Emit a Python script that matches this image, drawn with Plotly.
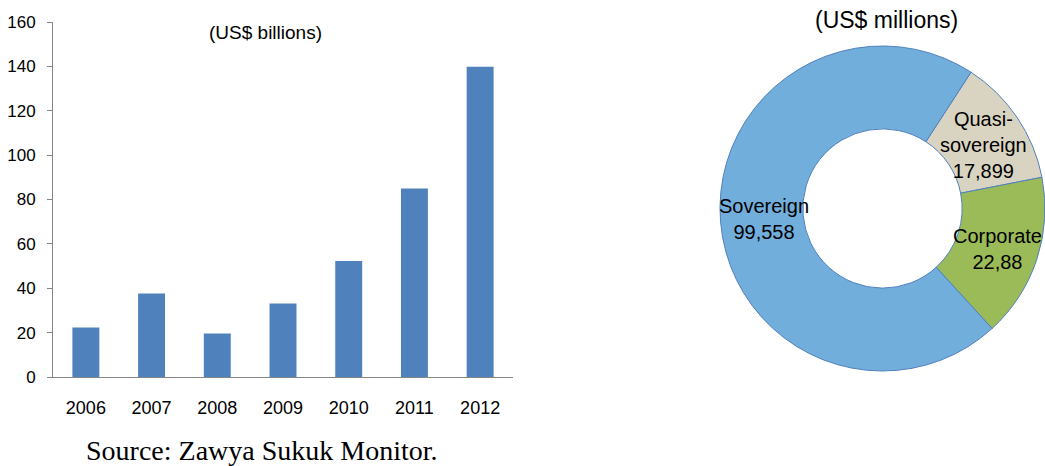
import plotly.graph_objects as go

years = ["2006", "2007", "2008", "2009", "2010", "2011", "2012"]
issuance = [22.3, 37.6, 19.6, 33.1, 52.3, 85.0, 139.8]
y_ticks = [0, 20, 40, 60, 80, 100, 120, 140, 160]

pie_labels = ["Quasi-sovereign", "Corporate", "Sovereign"]
pie_values = [17899, 22880, 99558]
pie_display = ["Quasi-<br>sovereign<br>17,899", "Corporate<br>22,88", "Sovereign<br>99,558"]
pie_colors = ["#D9D4C1", "#9BBB59", "#72AEDC"]

W, H = 1045, 466

fig = go.Figure()
fig.add_trace(go.Bar(x=years, y=issuance, marker=dict(color="#4F81BD", line=dict(width=0)),
                     xaxis="x", yaxis="y", showlegend=False))

r = 162.5
cx, cy = 882.5, 208.5
fig.add_trace(go.Pie(labels=pie_labels, values=pie_values, hole=0.49, sort=False,
                     direction="clockwise", rotation=33,
                     marker=dict(colors=pie_colors, line=dict(color="#4F81BD", width=1)),
                     textinfo="none", showlegend=False,
                     domain=dict(x=[(cx - r) / W, (cx + r) / W],
                                 y=[1 - (cy + r) / H, 1 - (cy - r) / H])))

axis_col = "#868686"
fig.update_layout(
    width=W, height=H, margin=dict(l=0, r=0, t=0, b=0, autoexpand=False),
    paper_bgcolor="white", plot_bgcolor="white",
    font=dict(family="Liberation Sans, Arial", color="#000000", size=17),
    bargap=0.59,
    xaxis=dict(domain=[53 / W, 513 / W], showline=True, linecolor=axis_col, linewidth=1,
               ticks="", showgrid=False, tickfont=dict(size=18), ticklabelstandoff=14,
               anchor="y", automargin=False),
    yaxis=dict(domain=[1 - 377 / H, 1 - 22 / H], range=[0, 160], tickvals=y_ticks,
               showline=True, linecolor=axis_col, linewidth=1, ticks="outside",
               ticklen=5, tickcolor=axis_col, showgrid=False, zeroline=False,
               tickfont=dict(size=17), ticklabelstandoff=8, anchor="x", automargin=False),
)

ann = []
ann.append(dict(text="(US$ billions)", x=265 / W, y=1 - 32 / H, xref="paper", yref="paper",
                showarrow=False, font=dict(size=19), xanchor="center", yanchor="middle"))
ann.append(dict(text="(US$ millions)", x=886 / W, y=1 - 20 / H, xref="paper", yref="paper",
                showarrow=False, font=dict(size=23), xanchor="center", yanchor="middle"))
label_pos = [(983, 145), (997, 249), (764, 219)]
for txt, (px, py) in zip(pie_display, label_pos):
    ann.append(dict(text=txt, x=px / W, y=1 - py / H, xref="paper", yref="paper",
                    showarrow=False, font=dict(size=20), xanchor="center", yanchor="middle"))
ann.append(dict(text="Source: Zawya Sukuk Monitor.", x=84 / W, y=1 - 450 / H,
                xref="paper", yref="paper", showarrow=False, xanchor="left", yanchor="middle",
                font=dict(family="Liberation Serif, Times New Roman", size=28)))
fig.update_layout(annotations=ann)

fig.write_html("out.html")
